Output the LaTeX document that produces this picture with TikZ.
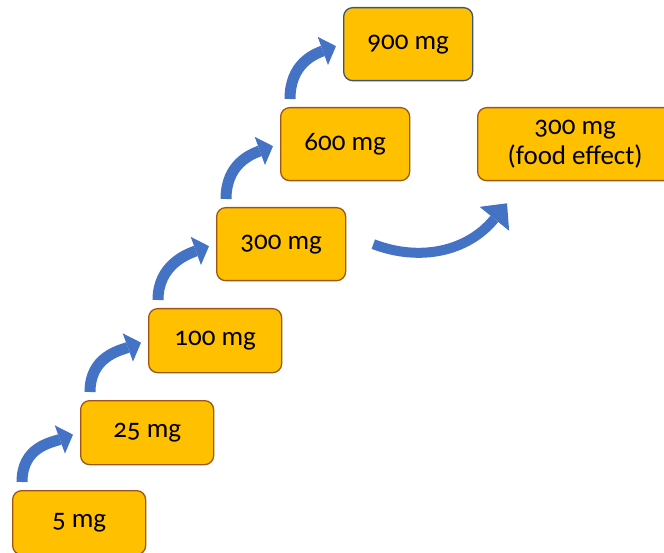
\documentclass[tikz,border=0pt]{standalone}
\usepackage{fontspec}
\setmainfont[Numbers=OldStyle]{Carlito}
\usetikzlibrary{arrows.meta,calc}

\definecolor{doseorange}{HTML}{FFC000}
\definecolor{doseborder}{HTML}{9C5716}
\definecolor{topborder}{HTML}{3E5478}
\definecolor{stepblue}{HTML}{4472C4}

\begin{document}
\begin{tikzpicture}[x=1pt,y=-1pt,>=Stealth,
    dosebox/.style={draw=doseborder,fill=doseorange,line width=1.3pt,rounded corners=9pt,
      anchor=north west,align=center,font=\fontsize{27}{30}\selectfont,inner sep=0pt},
    lowbox/.style={dosebox,minimum width=133pt,minimum height=64pt},
    highbox/.style={dosebox,minimum width=129pt,minimum height=73pt},
    stepup/.style={draw=stepblue,line width=11pt,-{Triangle[width=30pt,length=14pt,line width=0pt]}},
    bigstep/.style={draw=stepblue,line width=10pt,-{Triangle[width=38pt,length=20pt,line width=0pt]}}]
      \useasboundingbox (0,0) rectangle (664,553);
      \clip (0,0) rectangle (664,553);
      % Doses
      \node[lowbox] (d5) at (12,490) {5 mg};
      \node[lowbox] (d25) at (80,400) {25 mg};
      \node[lowbox] (d100) at (148,308) {100 mg};
      \node[highbox] (d300) at (216,207) {300 mg};
      \node[highbox] (d600) at (280,107) {600 mg};
      \node[highbox,draw=topborder] (d900) at (343,7) {900 mg};
      \node[dosebox,minimum width=195pt,minimum height=73pt] (food) at (477,107) {300 mg\\(food effect)};
      % Escalation arrows
      \draw[stepup] ($(d5.north west)+(10,-8)$) .. controls +(0,-35) and +(-22,8) .. ($(d25.west)+(-7,2)$);
      \draw[stepup] ($(d25.north west)+(10,-8)$) .. controls +(0,-35) and +(-22,8) .. ($(d100.west)+(-7,2)$);
      \draw[stepup] ($(d100.north west)+(10,-8)$) .. controls +(0,-35) and +(-22,8) .. ($(d300.west)+(-7,2)$);
      \draw[stepup] ($(d300.north west)+(10,-8)$) .. controls +(0,-35) and +(-22,8) .. ($(d600.west)+(-7,2)$);
      \draw[stepup] ($(d600.north west)+(10,-8)$) .. controls +(0,-35) and +(-22,8) .. ($(d900.west)+(-7,2)$);
      % Food effect
      \draw[bigstep] ($(d300.east)+(27,0)$) .. controls +(47,18) and +(-39,48) .. ($(food.south west)+(30,22)$);
    \end{tikzpicture}
\end{document}
